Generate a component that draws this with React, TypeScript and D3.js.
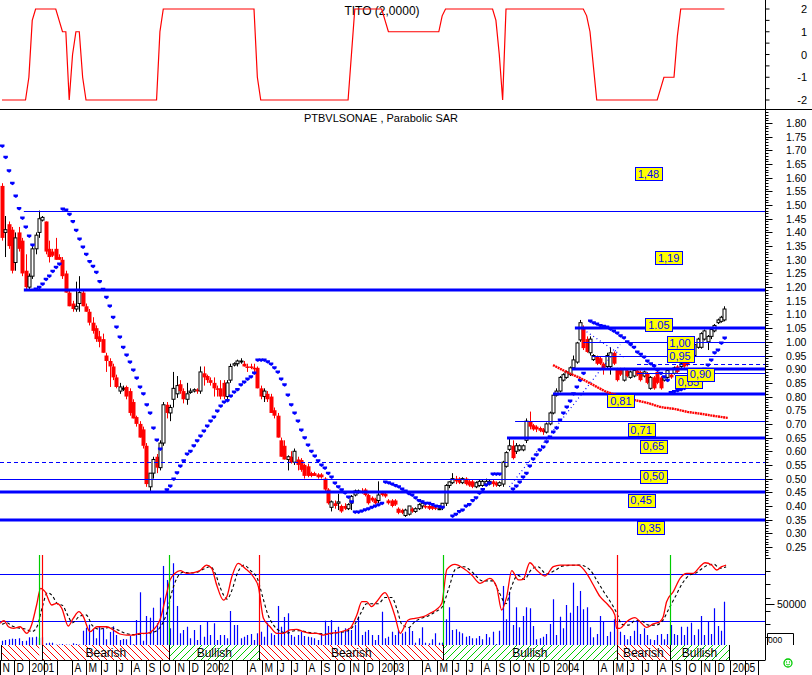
import React from "react";
import * as d3 from "d3";

const FONT = "'Liberation Sans', Arial, sans-serif";

// Weekly bars, week 0 = 6 Nov 2000. [open, high, low, close]
const ohlc: number[][] = [
  [1.57,1.58,1.37,1.38],[1.40,1.46,1.31,1.41],[1.43,1.44,1.34,1.35],[1.41,1.42,1.25,1.26],[1.29,1.40,1.26,1.38],
  [1.40,1.42,1.33,1.34],[1.37,1.38,1.24,1.25],[1.26,1.32,1.19,1.20],[1.20,1.25,1.19,1.24],[1.24,1.35,1.23,1.34],
  [1.34,1.40,1.32,1.39],[1.40,1.48,1.38,1.45],[1.445,1.46,1.44,1.455],[1.44,1.44,1.32,1.33],[1.34,1.37,1.29,1.31],
  [1.33,1.34,1.31,1.315],[1.34,1.38,1.30,1.30],[1.31,1.32,1.30,1.30],[1.30,1.31,1.23,1.24],[1.25,1.26,1.18,1.18],
  [1.18,1.19,1.13,1.13],[1.14,1.15,1.11,1.12],[1.12,1.22,1.11,1.13],[1.14,1.24,1.11,1.18],[1.18,1.19,1.13,1.13],
  [1.13,1.14,1.11,1.11],[1.11,1.12,1.06,1.07],[1.07,1.09,1.03,1.04],[1.05,1.06,1.00,1.01],[1.02,1.04,0.98,1.00],
  [1.01,1.03,0.96,0.96],[0.95,0.96,0.89,0.93],[0.93,0.94,0.835,0.91],[0.91,0.92,0.86,0.87],[0.87,0.88,0.83,0.835],
  [0.82,0.85,0.81,0.835],[0.83,0.84,0.82,0.83],[0.835,0.84,0.79,0.80],[0.82,0.83,0.73,0.74],[0.78,0.79,0.72,0.72],
  [0.725,0.73,0.69,0.70],[0.70,0.71,0.65,0.65],[0.68,0.69,0.61,0.62],[0.62,0.63,0.47,0.48],[0.47,0.52,0.455,0.52],
  [0.52,0.58,0.50,0.57],[0.58,0.59,0.52,0.54],[0.54,0.64,0.53,0.63],[0.63,0.78,0.62,0.77],[0.77,0.78,0.72,0.74],
  [0.74,0.77,0.71,0.76],[0.79,0.89,0.76,0.83],[0.81,0.875,0.795,0.84],[0.845,0.86,0.81,0.82],[0.82,0.83,0.775,0.79],
  [0.79,0.85,0.77,0.81],[0.815,0.83,0.81,0.82],[0.82,0.83,0.815,0.825],[0.825,0.83,0.81,0.82],[0.82,0.91,0.81,0.89],
  [0.885,0.91,0.84,0.87],[0.875,0.88,0.85,0.86],[0.86,0.87,0.84,0.85],[0.85,0.87,0.80,0.83],[0.83,0.84,0.80,0.825],
  [0.83,0.86,0.79,0.80],[0.85,0.86,0.79,0.80],[0.80,0.86,0.79,0.85],[0.86,0.92,0.85,0.91],[0.915,0.925,0.91,0.92],
  [0.92,0.935,0.91,0.93],[0.93,0.94,0.92,0.93],[0.92,0.93,0.91,0.91],[0.91,0.92,0.89,0.905],[0.91,0.92,0.90,0.905],
  [0.905,0.92,0.89,0.90],[0.905,0.91,0.83,0.83],[0.83,0.84,0.79,0.80],[0.80,0.83,0.78,0.82],[0.81,0.82,0.78,0.79],
  [0.80,0.81,0.74,0.74],[0.75,0.76,0.72,0.73],[0.73,0.74,0.65,0.65],[0.64,0.65,0.58,0.58],[0.62,0.64,0.57,0.57],
  [0.57,0.585,0.53,0.58],[0.58,0.60,0.555,0.56],[0.56,0.61,0.55,0.60],[0.57,0.58,0.53,0.55],[0.568,0.575,0.525,0.532],
  [0.55,0.555,0.50,0.51],[0.545,0.555,0.505,0.51],[0.52,0.525,0.505,0.51],[0.52,0.525,0.51,0.51],[0.515,0.52,0.50,0.505],
  [0.515,0.52,0.50,0.505],[0.50,0.505,0.455,0.46],[0.46,0.465,0.405,0.41],[0.395,0.42,0.38,0.415],[0.41,0.42,0.39,0.40],
  [0.41,0.445,0.385,0.415],[0.40,0.405,0.375,0.38],[0.40,0.41,0.385,0.39],[0.39,0.41,0.385,0.405],[0.41,0.44,0.385,0.435],
  [0.44,0.46,0.435,0.455],[0.45,0.46,0.445,0.455],[0.455,0.465,0.445,0.45],[0.46,0.465,0.435,0.44],[0.44,0.445,0.405,0.41],
  [0.43,0.435,0.415,0.42],[0.425,0.43,0.405,0.41],[0.42,0.49,0.41,0.44],[0.45,0.455,0.435,0.44],[0.445,0.45,0.43,0.435],
  [0.42,0.425,0.405,0.41],[0.42,0.425,0.395,0.40],[0.42,0.425,0.40,0.405],[0.39,0.395,0.37,0.375],[0.385,0.39,0.37,0.375],
  [0.365,0.39,0.36,0.385],[0.37,0.40,0.365,0.40],[0.39,0.395,0.375,0.38],[0.38,0.395,0.375,0.39],[0.39,0.41,0.385,0.405],
  [0.40,0.42,0.39,0.41],[0.40,0.41,0.39,0.395],[0.40,0.405,0.385,0.39],[0.40,0.405,0.385,0.39],[0.395,0.40,0.385,0.39],
  [0.39,0.395,0.385,0.39],[0.393,0.41,0.385,0.41],[0.41,0.48,0.40,0.475],[0.475,0.49,0.465,0.488],[0.485,0.52,0.48,0.50],
  [0.50,0.51,0.48,0.49],[0.50,0.505,0.48,0.485],[0.485,0.505,0.48,0.50],[0.50,0.505,0.475,0.48],[0.49,0.495,0.47,0.475],
  [0.49,0.495,0.465,0.47],[0.47,0.49,0.465,0.485],[0.475,0.495,0.47,0.49],[0.475,0.495,0.47,0.49],[0.48,0.50,0.475,0.49],
  [0.48,0.495,0.475,0.49],[0.49,0.495,0.47,0.48],[0.485,0.49,0.47,0.475],[0.475,0.49,0.47,0.485],[0.48,0.565,0.47,0.56],
  [0.545,0.60,0.54,0.595],[0.607,0.65,0.60,0.62],[0.62,0.64,0.57,0.575],[0.60,0.63,0.59,0.62],[0.605,0.625,0.60,0.62],
  [0.605,0.625,0.60,0.62],[0.64,0.72,0.63,0.71],[0.71,0.745,0.68,0.69],[0.695,0.70,0.675,0.68],[0.69,0.695,0.67,0.68],
  [0.685,0.69,0.67,0.675],[0.68,0.685,0.66,0.67],[0.67,0.705,0.665,0.70],[0.70,0.745,0.695,0.74],[0.74,0.81,0.735,0.805],
  [0.805,0.83,0.80,0.82],[0.82,0.875,0.815,0.87],[0.86,0.885,0.855,0.88],[0.87,0.895,0.865,0.89],[0.88,0.91,0.875,0.905],
  [0.905,0.95,0.90,0.934],[0.926,1.00,0.92,0.996],[1.007,1.08,1.00,1.07],[1.054,1.06,0.97,0.977],[1.01,1.02,0.96,0.963],
  [0.96,1.02,0.95,1.01],[0.935,0.955,0.93,0.95],[0.945,0.95,0.915,0.92],[0.94,0.945,0.915,0.92],[0.92,0.925,0.88,0.90],
  [0.91,0.96,0.90,0.95],[0.91,0.98,0.88,0.96],[0.96,0.965,0.915,0.92],[0.90,0.905,0.855,0.86],[0.90,0.905,0.875,0.88],
  [0.86,0.905,0.855,0.90],[0.895,0.90,0.87,0.875],[0.87,0.895,0.865,0.89],[0.875,0.90,0.87,0.895],[0.895,0.90,0.875,0.88],
  [0.89,0.895,0.855,0.86],[0.875,0.895,0.87,0.89],[0.885,0.89,0.845,0.85],[0.83,0.875,0.825,0.87],[0.87,0.875,0.825,0.83],
  [0.89,0.895,0.845,0.85],[0.87,0.875,0.825,0.83],[0.86,0.875,0.855,0.87],[0.87,0.90,0.865,0.895],[0.88,0.885,0.865,0.87],
  [0.885,0.91,0.88,0.905],[0.91,0.915,0.885,0.89],[0.91,0.925,0.905,0.92],[0.925,0.93,0.905,0.91],[0.925,0.93,0.91,0.915],
  [0.93,0.975,0.925,0.97],[0.95,0.995,0.945,0.99],[0.98,1.015,0.975,1.01],[0.98,1.035,0.975,1.03],[1.01,1.045,1.005,1.04],
  [1.00,1.025,0.97,1.02],[1.02,1.05,1.01,1.045],[1.04,1.065,1.035,1.06],[1.07,1.085,1.065,1.08],[1.075,1.095,1.07,1.09],
  [1.08,1.13,1.075,1.12],
];

// Parabolic SAR per week (null = no dot)
const sar: (number | null)[] = [
  1.716,1.675,1.625,1.58,1.533,1.487,1.453,1.42,1.387,1.354,
  1.193,1.2,1.211,1.229,1.241,1.258,1.273,1.285,
  1.486,1.482,1.466,1.44,1.408,1.376,1.347,1.32,1.294,1.276,1.254,1.221,1.192,1.163,1.131,1.09,1.054,1.018,0.98,0.952,0.926,0.897,0.868,0.835,0.81,0.77,0.74,0.685,0.641,0.608,
  null,
  0.459,0.473,0.499,0.521,0.546,0.565,0.59,0.6,0.62,0.638,0.656,0.674,0.692,0.711,0.725,0.747,0.765,0.78,0.786,0.802,0.817,0.826,0.843,0.853,0.864,0.872,0.886,
  0.934,0.934,0.934,0.927,0.919,0.905,0.89,0.864,0.843,0.806,0.77,0.74,0.711,0.678,0.649,0.623,0.6,0.583,0.565,0.55,0.539,0.52,0.506,0.484,0.47,0.459,0.448,0.433,0.415,
  0.378,0.378,0.382,0.386,0.39,0.395,0.4,0.404,0.41,
  0.488,0.485,0.48,0.475,0.47,0.462,0.455,0.446,0.44,0.43,0.42,0.415,0.41,0.41,0.405,0.4,0.398,0.395,
  null,null,
  0.363,0.37,0.38,0.385,0.4,0.405,0.42,0.43,0.447,0.46,0.477,0.484,
  0.517,0.517,0.517,
  null,null,null,
  0.462,0.473,0.488,0.506,0.52,0.546,0.572,0.587,0.605,0.616,0.635,0.652,0.67,0.685,0.714,0.74,0.762,0.784,0.81,0.835,0.86,
  0.885,null,
  1.076,1.07,1.065,1.06,1.057,1.054,1.047,1.04,1.032,1.022,1.015,1.0,0.99,0.98,0.963,0.955,0.945,0.93,0.92,0.912,0.897,0.885,0.872,0.86,
  0.815,0.818,0.822,0.826,0.83,0.835,0.84,0.85,0.86,0.88,0.9,0.915,
  0.934,0.96,0.97,0.996,1.014,
];

// TITO indicator per week
const tito: number[] = [
  -2,-2,-2,-2,-2,-2,-2,-2,-1,1.5,2,2,2,2,2,2,2,1.5,1,1,-2,0,1,1,-1,
  -2,-2,-2,-2,-2,-2,-2,-2,-2,-2,-2,-2,-2,-2,-2,-2,-2,-2,-2,-2,-2,-2,
  1,
  2,2,2,2,2,2,2,2,2,2,2,2,2,2,2,2,2,2,2,2,2,2,2,2,2,2,2,2,
  -1,
  -2,-2,-2,-2,-2,-2,-2,-2,-2,-2,-2,-2,-2,-2,-2,-2,-2,-2,-2,-2,-2,-2,-2,-2,-2,-2,-2,
  0,
  2,2,2,2,2,2,2,2,2,
  1.5,
  1,1,1,1,1,1,1,1,1,1,1,1,1,1,1,1,
  1.7,
  2,2,2,2,2,2,2,2,2,2,2,2,2,2,2,
  1.5,0,-2,
  2,2,2,2,2,2,2,2,2,2,2,2,2,2,2,2,2,2,2,2,2,2,2,2,
  1.7,1,-0.5,
  -2,-2,-2,-2,-2,-2,-2,-2,-2,-2,-2,-2,-2,-2,-2,-2,-2,-2,-2,
  -1.5,-1,-1,-1,-1,0.8,
  2,2,2,2,2,2,2,2,2,2,2,2,2,2,
];

// Weekly volume
const volume: number[] = [
  5200,6100,7000,7700,7300,8200,4900,5200,9400,9400,10100,8500,9400,2100,2800,2800,500,600,1200,500,
  400,2100,1200,600,17400,21100,24800,19500,8200,22800,20400,7000,15900,22800,12200,6100,7300,7000,11000,1000,
  30500,64300,5200,35400,33300,45500,26500,57700,96400,79300,20400,99700,47600,14300,18300,22300,8200,18300,6100,24400,
  10100,28400,12200,26500,6100,12200,12200,8200,41500,24400,24400,8200,10100,12200,13400,6100,14300,16200,10100,27200,
  14300,12200,47600,22300,34200,38700,12200,10100,12200,16200,11000,10100,9400,8200,6100,14300,29600,23200,30500,18300,
  22300,16200,20400,20400,18300,24400,34500,12200,16200,18300,12200,6100,12200,40600,8200,10100,16200,12200,18300,14300,
  16200,21600,17100,2800,8200,21600,2800,2100,7000,14300,2800,2800,31400,46000,18300,19200,16200,14300,10100,11000,
  8200,8200,11000,7000,13400,9400,16200,1200,17400,72000,31400,65000,24400,46000,21600,35400,46000,44800,23200,7000,
  8200,10100,13400,25600,55800,12200,34500,20400,48800,39400,76000,47600,65900,43600,46000,21600,9400,13400,35400,28400,
  11000,16200,31400,22300,16200,12200,7000,11000,17400,29600,13400,20400,12200,7000,6100,12200,13400,7000,13400,24400,
  13400,12200,22300,12200,22300,27200,12200,19200,35400,12200,28400,13400,44800,23200,17400,52800,
];

// Oscillator (red) [week, value]
const oscMain: number[][] = [
  [-0.6,17.3],[0.6,20.6],[1.9,13],[3.4,11],[5.4,13],[7.4,4.7],[8.8,15.2],[10.3,40.5],[11.5,61.6],[12.8,57.4],
  [14.8,40.5],[16.3,42.6],[17.8,36.3],[19.7,13.9],[21.2,23.6],[22.9,32],[24.2,25.7],[26.2,6.7],[28.2,13],[31.2,13],
  [33.1,8.9],[35.1,3.8],[37.1,2.5],[39.1,2.5],[41.1,4.7],[43.1,4.7],[45,8.9],[47,21.5],[49,55.3],[50,72.2],
  [51.5,80.6],[53,84],[55,80.6],[56.9,81.4],[58.9,84],[60.9,91.1],[62.4,87],[63.9,65.8],[65.9,46.8],[66.9,51],
  [68.4,76.3],[70.3,93.3],[72.3,87],[74.8,76.3],[76.3,63.7],[77.8,23.6],[79.8,13],[81.8,4.7],[83.7,4.7],[85.7,8.9],
  [87.7,9.7],[89.7,6.7],[91.7,4.7],[93.7,4.7],[95.6,2.5],[97.6,4.7],[99.6,5.5],[101.6,7.6],[103.6,11],[105.6,27.8],
  [107.1,44.7],[108.5,44.7],[110,38.4],[111.5,44.7],[114,56.1],[115.5,44.7],[117,25.7],[118.5,4.7],[120.9,21.5],[122.9,23.6],
  [125.4,25.7],[127.4,30],[129.4,35],[130.9,42.6],[132.4,85.6],[134.8,92],[137.3,87],[139.8,78.5],[142.3,68],[145.2,74.3],
  [147.2,63.7],[148.7,34.2],[150.2,51],[151.7,84],[153.7,72.2],[155.1,73],[157.1,94],[159.1,84.8],[161.6,77.2],[164.1,89],
  [166.1,91.1],[171.5,91.1],[174,80.6],[176,65.8],[178,51],[180.4,40.5],[182.4,27.8],[182.9,11],[183.9,11],[185.9,19.4],
  [188.4,24.4],[189.9,19.4],[191.9,12.2],[193.8,16.5],[195.8,19.4],[196.8,25.7],[197.8,44.7],[199.8,57.4],[201.8,74.3],[203.8,80.6],
  [205.7,80.6],[207.7,89],[209.2,94],[211.2,91.1],[212.7,84.8],[214.2,89],[215.5,91.1],
];

// Oscillator signal (dashed) [week, value]
const oscSignal: number[][] = [
  [0,16],[1.5,18],[3,14],[5,11.5],[7,10],[9,7],[10.5,14],[12,38],[13.5,56],[15,52],[16.5,42],[18,40],[19.5,28],[21,18],
  [23,26],[25,28],[27,14],[29,10],[32,12],[34.5,9],[36.5,5],[39,3],[41,3.5],[43,4.7],[45,6],[47,12],[49,30],[50.5,56],
  [52,74],[54,82],[56,81],[58,82],[60,86],[62,89],[63.5,80],[65,62],[67,48],[68.5,60],[70,80],[72,91],[74,84],[76,74],
  [77.5,52],[79,30],[81,14],[83,7],[85,5],[87,8],[89,8],[91,6],[93,5],[95,4],[97,3.5],[99,5],[101,6],[103,8],[105,16],
  [107,32],[108.5,42],[110,42],[112,42],[114,50],[116,50],[117.5,36],[119,16],[121,12],[123,20],[125,24],[127,27],[129,32],
  [131,38],[133,62],[135,86],[137.5,89],[140,82],[143,71],[146,71],[148,56],[150,42],[151.5,62],[153.5,78],[155.5,73],
  [157.5,85],[159.5,89],[162,80],[164.5,84],[167,90],[172,91],[175,85],[177,72],[179,58],[181,45],[183,30],[184.5,16],
  [186.5,15],[188.5,21],[190.5,20],[192.5,15],[194.5,15],[196.5,20],[198.5,36],[200.5,52],[202.5,68],[204.5,78],[206.5,81],
  [208.5,87],[210,91],[212,92],[213.5,87],[215,88],[215.5,89],
];

// Long moving average (red) [week, price]
const maLine: number[][] = [
  [164,0.915],[168,0.89],[172,0.868],[176,0.842],[180,0.817],[184,0.802],[188,0.788],[192,0.777],
  [196,0.762],[200,0.755],[204,0.744],[208,0.737],[212,0.729],[216,0.722],
];

// Support / resistance levels
const levelValues = [1.48, 1.19, 1.05, 1.0, 0.95, 0.92, 0.9, 0.885, 0.81, 0.71, 0.65, 0.56, 0.5, 0.45, 0.35];
const levelStartWeek = [6.5, 6.5, 170.5, 173, 175.6, 189, 169.6, 189, 164, 152.7, 150.3, -0.6, -0.6, -0.6, -0.6];
const levelKind = ["thin","thick","thick","thin","thin","dashed","thick","thin","thick","thin","thick","dashed","thin","thick","thick"];

// Level tags
const tagText = ["1,48","1,19","1.05","1,00","0,95","0,85","0,90","0,81","0,71","0,65","0,50","0,45","0,35"];
const tagWeek = [192.4,198.4,195.5,201.8,201.8,204.3,207.9,184.2,190.2,193.9,193.9,190.2,192.9];
const tagPrice = [1.615,1.308,1.062,0.996,0.95,0.855,0.881,0.784,0.678,0.618,0.508,0.42,0.321];

// Dotted trend lines [week, price]
const trendLines: number[][][] = [
  [[151,0.47],[184,0.99]],
  [[173,1.045],[185,0.945]],
];

// Signals (week) and regime bands
const signalWeeks = [11.1, 12.0, 49.8, 76.6, 131.3, 182.9, 198.8];
const signalTypes = ["buy","sell","buy","sell","buy","sell","buy"];
const bandStart = [-0.3, 12.0, 49.8, 76.6, 131.3, 182.9, 198.8];
const bandEnd = [11.1, 49.8, 76.6, 131.3, 182.9, 198.8, 216.4];
const bandType = ["Bearish","Bearish","Bullish","Bearish","Bullish","Bearish","Bullish"];
const bandLabelled = [false, true, true, true, true, true, true];

const monthInitials = ["J","F","M","A","M","J","J","A","S","O","N","D"];
const titoTicks = [2, 1, 0, -1, -2];

const START = Date.UTC(2000, 10, 6);
const DAY = 86400000;

export default function App() {
  const W = 812, H = 675;
  const AX = 765.5;
  const xw = d3.scaleLinear().domain([0, 215]).range([2, 724.4]);
  const xt = d3.scaleUtc().domain([new Date(START), new Date(START + 215 * 7 * DAY)]).range([2, 724.4]);
  const yP = d3.scaleLinear().domain([0.25, 1.8]).range([547, 123]);
  const yT = d3.scaleLinear().domain([-2, 2]).range([100, 9]);
  const yV = d3.scaleLinear().domain([0, 50000]).range([645, 604]);
  const yO = d3.scaleLinear().domain([0, 100]).range([637, 558]);

  const titoPath = d3.line<number>().x((_, i) => xw(i)).y((d) => yT(d))(tito) || "";
  const oscPath = d3.line<number[]>().x((d) => xw(d[0])).y((d) => yO(d[1])).curve(d3.curveMonotoneX)(oscMain) || "";
  const sigPath = d3.line<number[]>().x((d) => xw(d[0])).y((d) => yO(d[1])).curve(d3.curveMonotoneX)(oscSignal) || "";
  const maPath = d3.line<number[]>().x((d) => xw(d[0])).y((d) => yP(d[1])).curve(d3.curveMonotoneX)(maLine) || "";

  const months = d3.utcMonth.range(new Date(Date.UTC(2000, 10, 1)), new Date(Date.UTC(2005, 2, 2)));
  const priceTicks = d3.range(22, 186).map((v) => v / 100);
  const priceLabels = d3.range(5, 37).map((v) => v * 0.05);
  const fmt = d3.format(".2f");
  const oscTicks = [100, 83.3, 66.7, 50, 33.3, 16.7, 0];

  const blue = "#0000ff";
  const red = "#ff0000";
  const green = "#00cc00";

  return (
    <svg width={W} height={H} style={{ position: "absolute", left: 0, top: 0, background: "#fff" }} fontFamily={FONT}>
      <defs>
        <pattern id="bear" patternUnits="userSpaceOnUse" width="7" height="7">
          <path d="M0,0 L7,7 M-1,6 L1,8 M6,-1 L8,1" stroke={red} strokeWidth="1" />
        </pattern>
        <pattern id="bull" patternUnits="userSpaceOnUse" width="7" height="7">
          <path d="M0,7 L7,0 M-1,1 L1,-1 M6,8 L8,6" stroke={green} strokeWidth="1" />
        </pattern>
        <clipPath id="plot"><rect x="0" y="0" width={AX} height="660" /></clipPath>
      </defs>
      <rect x="0" y="0" width={W} height={H} fill="#fff" />

      {/* ===== TITO panel ===== */}
      <text x="382" y="15" fontSize="12" textAnchor="middle" fill="#000">TITO (2,0000)</text>
      <path d={titoPath} fill="none" stroke={red} strokeWidth="1.2" clipPath="url(#plot)" />
      {d3.range(-2, 2.01, 0.5).map((v) => (
        <line key={"tt" + v} x1={AX} x2={AX + 4} y1={yT(v)} y2={yT(v)} stroke="#000" />
      ))}
      {titoTicks.map((v) => (
        <text key={"tl" + v} x="807" y={yT(v) + 4} fontSize="11" textAnchor="end">{v}</text>
      ))}
      <line x1="0" x2={W} y1="109.5" y2="109.5" stroke="#000" />

      {/* ===== Price panel ===== */}
      <text x="381" y="122" fontSize="11" textAnchor="middle" fill="#000">PTBVLSONAE , Parabolic SAR</text>

      <g clipPath="url(#plot)">
        {ohlc.map((d, i) => {
          const [o, h, l, c] = d;
          const cx = Math.round(xw(i)) + 0.5;
          const up = c >= o;
          if (up) {
            const top = yP(c), bot = yP(o);
            return (
              <g key={"c" + i}>
                <line x1={cx} x2={cx} y1={yP(h)} y2={yP(l)} stroke="#000" strokeWidth="1" />
                <rect x={cx - 1.5} y={top} width="3" height={Math.max(1, bot - top)} fill="#fff" stroke="#000" strokeWidth="1" />
              </g>
            );
          }
          const top = yP(o), bot = yP(c);
          return (
            <g key={"c" + i}>
              <line x1={cx} x2={cx} y1={yP(h)} y2={yP(l)} stroke={red} strokeWidth="1" />
              <rect x={cx - 2} y={top} width="4" height={Math.max(1.5, bot - top)} fill={red} />
            </g>
          );
        })}

        {levelValues.map((v, i) => {
          const k = levelKind[i];
          const yy = Math.round(yP(v)) + (k === "thick" ? 0 : 0.5);
          return (
            <line key={"lv" + i} x1={Math.max(0, xw(levelStartWeek[i]))} x2={AX} y1={yy} y2={yy}
              stroke={blue} strokeWidth={k === "thick" ? 3 : 1.2}
              strokeDasharray={k === "dashed" ? "4,3" : undefined} />
          );
        })}

        {trendLines.map((t, i) => (
          <line key={"tr" + i} x1={xw(t[0][0])} y1={yP(t[0][1])} x2={xw(t[1][0])} y2={yP(t[1][1])}
            stroke={blue} strokeWidth="1.2" strokeDasharray="1,3" />
        ))}

        {sar.map((v, i) =>
          v == null ? null : (
            <path key={"s" + i} d={`M${xw(i) - 2},${yP(v) - 1.5} h4.5 v2 l-2,1.5 l-2.5,-1.5 z`} fill={blue} />
          )
        )}

        <path d={maPath} fill="none" stroke={red} strokeWidth="2.4" strokeDasharray="2,0.6" />
      </g>

      {tagText.map((t, i) => {
        const cx = xw(tagWeek[i]);
        const cy = yP(tagPrice[i]);
        return (
          <g key={"tg" + i}>
            <rect x={Math.round(cx - 13.5) + 0.5} y={Math.round(cy - 6.5) + 0.5} width="27" height="13" fill="#ffff00" stroke={blue} strokeWidth="1" />
            <text x={cx} y={cy + 4} fontSize="11" textAnchor="middle" fill={blue}>{t}</text>
          </g>
        );
      })}

      {/* Price axis */}
      {priceTicks.map((v) => {
        const major = Math.round(v * 100) % 5 === 0;
        const yy = Math.round(yP(v)) + 0.5;
        return <line key={"pt" + v} x1={AX} x2={AX + (major ? 7 : 3)} y1={yy} y2={yy} stroke="#000" />;
      })}
      {priceLabels.map((v) => (
        <text key={"pl" + v} x="786" y={yP(v) + 4} fontSize="10.5" fill="#000">{fmt(v)}</text>
      ))}

      {/* ===== Volume / oscillator panel ===== */}
      <g clipPath="url(#plot)">
        {volume.map((v, i) => (
          <line key={"v" + i} x1={Math.round(xw(i)) + 0.5} x2={Math.round(xw(i)) + 0.5} y1={yV(0)} y2={yV(v)} stroke={blue} strokeWidth="1.2" />
        ))}
        <line x1="0" x2={AX} y1={Math.round(yO(80)) + 0.5} y2={Math.round(yO(80)) + 0.5} stroke={blue} strokeWidth="1.2" />
        <line x1="0" x2={AX} y1={Math.round(yO(20)) + 0.5} y2={Math.round(yO(20)) + 0.5} stroke={blue} strokeWidth="1.2" />
        <path d={sigPath} fill="none" stroke="#000" strokeWidth="1.1" strokeDasharray="3,2.5" />
        <path d={oscPath} fill="none" stroke={red} strokeWidth="1.3" />
        {signalWeeks.map((w, i) => (
          <line key={"sg" + i} x1={Math.round(xw(w)) + 0.5} x2={Math.round(xw(w)) + 0.5} y1="555" y2="645"
            stroke={signalTypes[i] === "buy" ? green : red} strokeWidth="1.2" />
        ))}

        {bandStart.map((s, i) => (
          <rect key={"bd" + i} x={xw(s)} y="645" width={xw(bandEnd[i]) - xw(s)} height="15"
            fill={bandType[i] === "Bearish" ? "url(#bear)" : "url(#bull)"} />
        ))}
        {bandStart.concat([bandEnd[bandEnd.length - 1]]).map((s, i) => (
          <line key={"bl" + i} x1={Math.round(xw(s)) + 0.5} x2={Math.round(xw(s)) + 0.5} y1="645" y2="660" stroke="#000" />
        ))}
        <line x1={Math.round(xw(signalWeeks[1])) + 0.5} x2={Math.round(xw(signalWeeks[1])) + 0.5} y1="645" y2="660" stroke="#000" />
        {bandStart.map((s, i) =>
          bandLabelled[i] ? (
            <text key={"bt" + i} x={(xw(s) + xw(bandEnd[i])) / 2} y="657" fontSize="12" textAnchor="middle" fill="#000">{bandType[i]}</text>
          ) : null
        )}
      </g>

      {oscTicks.map((v) => (
        <line key={"ot" + v} x1={AX} x2={AX + 5} y1={Math.round(yO(v)) + 0.5} y2={Math.round(yO(v)) + 0.5} stroke="#000" />
      ))}
      <line x1={AX} x2={AX + 9} y1={Math.round(yV(50000)) + 0.5} y2={Math.round(yV(50000)) + 0.5} stroke="#000" />
      <text x="777" y={yV(50000) + 4} fontSize="10.5">50000</text>
      <path d="M767.5,645 V633.5 H793.5 V645" fill="none" stroke="#000" />
      <text x="768" y="643" fontSize="8.5">000</text>

      {/* Axes frame */}
      <line x1={AX} x2={AX} y1="0" y2="660" stroke="#000" />
      <line x1="0" x2={AX} y1="660.5" y2="660.5" stroke="#000" />

      {/* Time axis */}
      {months.map((d) => {
        const tx = Math.round(xt(d)) + 0.5;
        const m = d.getUTCMonth();
        const label = m === 0 ? String(d.getUTCFullYear()) : m === 1 || m === 2 ? "" : monthInitials[m];
        return (
          <g key={"m" + d.getTime()}>
            <line x1={tx} x2={tx} y1="660" y2="675" stroke="#000" />
            {label && tx < AX ? (
              <text transform={`translate(${tx + 2},672) scale(0.82,1)`} fontSize="12.5" fill="#000">{label}</text>
            ) : null}
          </g>
        );
      })}

      {/* status icon */}
      <g transform="translate(788,663)">
        <circle r="4" fill="none" stroke="#00cc00" strokeWidth="1.3" />
        <circle cx="-1.5" cy="-1" r="0.7" fill="#00cc00" />
        <circle cx="1.5" cy="-1" r="0.7" fill="#00cc00" />
        <path d="M-2,1 Q0,3 2,1" fill="none" stroke="#00cc00" strokeWidth="0.9" />
      </g>
    </svg>
  );
}
